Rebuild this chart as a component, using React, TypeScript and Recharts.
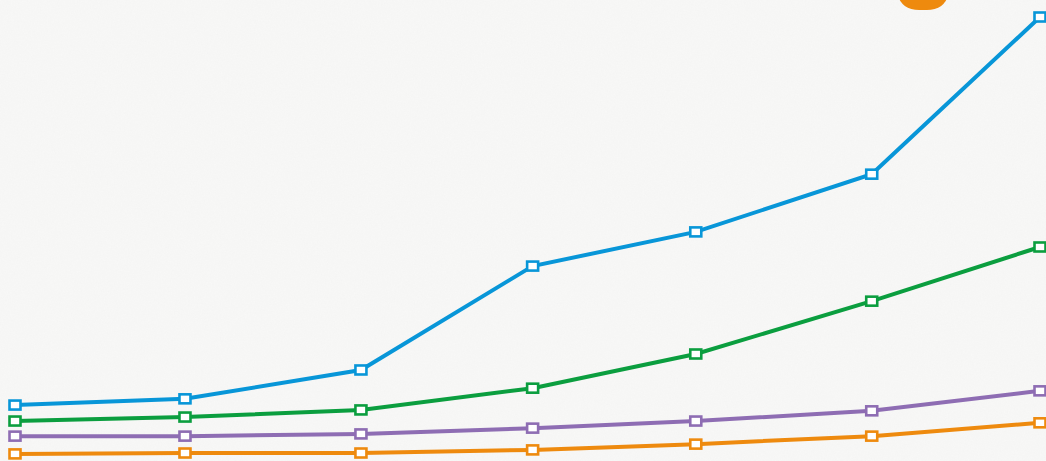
import { LineChart, Line, XAxis, YAxis } from 'recharts';

// x positions of the points (slightly uneven spacing, no labels visible)
const steps: number[] = [0, 0.995, 2.025, 3.03, 3.985, 5.015, 6];

// series values
const blueValues: number[] = [12.6, 14.0, 20.5, 43.9, 51.6, 64.6, 100];
const greenValues: number[] = [9.0, 9.9, 11.5, 16.4, 24.1, 36.0, 48.2];
const purpleValues: number[] = [5.6, 5.6, 6.1, 7.4, 9.0, 11.3, 15.8];
const orangeValues: number[] = [1.6, 1.8, 1.8, 2.5, 3.8, 5.6, 8.6];

const chartData = steps.map((step, i) => ({
  step,
  blue: blueValues[i],
  green: greenValues[i],
  purple: purpleValues[i],
  orange: orangeValues[i],
}));

const series = [
  { key: 'orange', color: '#ee8a0e' },
  { key: 'purple', color: '#8e6db3' },
  { key: 'green', color: '#0b9e3f' },
  { key: 'blue', color: '#0896d8' },
];

const SquareDot = (props: any) => {
  const { cx, cy, stroke } = props;
  if (cx == null || cy == null) return null;
  return (
    <rect
      x={cx - 5.5}
      y={cy - 4.5}
      width={11}
      height={9}
      fill="#ffffff"
      stroke={stroke}
      strokeWidth={2.6}
    />
  );
};

const App = () => {
  return (
    <div
      style={{
        position: 'fixed',
        top: 0,
        left: 0,
        width: 1046,
        height: 461,
        overflow: 'hidden',
        background: '#f7f7f6',
      }}
    >
      {/* paper texture */}
      <svg width={1046} height={461} style={{ position: 'absolute', top: 0, left: 0 }}>
        <filter id="paper">
          <feTurbulence type="fractalNoise" baseFrequency="0.7" numOctaves={3} seed={4} />
          <feColorMatrix
            type="matrix"
            values="0 0 0 0 0.6  0 0 0 0 0.6  0 0 0 0 0.6  0 0 0 0.25 0"
          />
        </filter>
        <rect width={1046} height={461} fill="#f8f8f7" />
        <rect width={1046} height={461} filter="url(#paper)" opacity={0.3} />
      </svg>

      {/* orange shape peeking in at the top */}
      <div
        style={{
          position: 'absolute',
          left: 899,
          top: -30,
          width: 48,
          height: 40,
          background: '#ee8a0e',
          borderRadius: '0 0 20px 20px / 0 0 14px 14px',
        }}
      />

      <div style={{ position: 'absolute', top: 0, left: 0 }}>
        <LineChart
          width={1046}
          height={461}
          data={chartData}
          margin={{ top: 17, right: 6, left: 15, bottom: 0 }}
        >
          <XAxis dataKey="step" type="number" domain={[0, 6]} hide />
          <YAxis hide domain={[0, 100]} />
          {series.map((s) => (
            <Line
              key={s.key}
              type="linear"
              dataKey={s.key}
              stroke={s.color}
              strokeWidth={4}
              dot={<SquareDot />}
              activeDot={false}
              isAnimationActive={false}
            />
          ))}
        </LineChart>
      </div>
    </div>
  );
};

export default App;
